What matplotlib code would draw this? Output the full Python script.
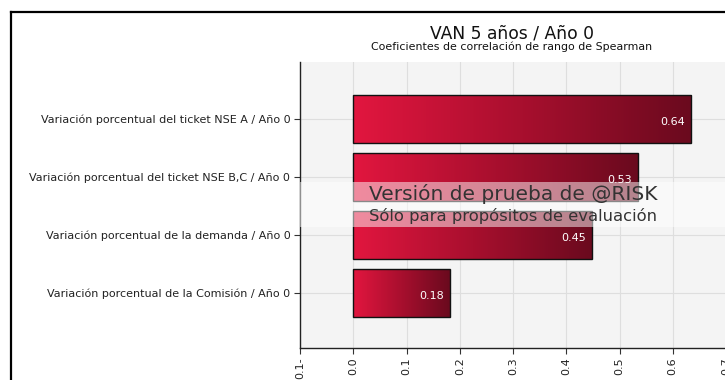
import numpy as np
import matplotlib
matplotlib.use("Agg")
import matplotlib.pyplot as plt
from matplotlib.colors import LinearSegmentedColormap
from matplotlib.lines import Line2D
from matplotlib.patches import Rectangle

categories = [
    "Variación porcentual del ticket NSE A / Año 0",
    "Variación porcentual del ticket NSE B,C / Año 0",
    "Variación porcentual de la demanda / Año 0",
    "Variación porcentual de la Comisión / Año 0",
]
values = [0.635, 0.535, 0.449, 0.182]
value_labels = ["0.64", "0.53", "0.45", "0.18"]
xticks = [-0.1, 0.0, 0.1, 0.2, 0.3, 0.4, 0.5, 0.6, 0.7]
xtick_labels = ["0.1-", "0.0", "0.1", "0.2", "0.3", "0.4", "0.5", "0.6", "0.7"]
title = "VAN 5 años / Año 0"
subtitle = "Coeficientes de correlación de rango de Spearman"
watermark1 = "Versión de prueba de @RISK"
watermark2 = "Sólo para propósitos de evaluación"

plt.rcParams['font.family'] = ['DejaVu Sans']

fig = plt.figure(figsize=(7.25, 3.8), dpi=100)
fig.patch.set_facecolor("white")

W, H = 725, 380
left, right, top, bottom = 300, 726, 62, 348
ax = fig.add_axes([left / W, 1 - bottom / H, (right - left) / W, (bottom - top) / H])
ax.set_facecolor("#F4F4F4")

ypos = np.arange(len(categories))

ax.set_xticks(xticks)
ax.set_xticklabels(xtick_labels, rotation=90, fontsize=8, color="#222222")
ax.set_yticks(ypos)
ax.set_yticklabels(categories, fontsize=8, color="#222222")
ax.tick_params(axis="both", length=4, width=0.8, color="#333333", pad=3)
ax.grid(True, color="#DEDEDE", linewidth=0.8)
ax.set_axisbelow(True)
for s in ["top", "right"]:
    ax.spines[s].set_visible(False)
for s in ["left", "bottom"]:
    ax.spines[s].set_color("#222222")
    ax.spines[s].set_linewidth(1.0)

cmap = LinearSegmentedColormap.from_list("grad", ["#E2163F", "#A80F2E", "#6A0A1E"])
grad = np.linspace(0, 1, 256).reshape(1, -1)
bar_h = 0.82
bars = ax.barh(ypos, values, height=bar_h, facecolor="none", edgecolor="#111111", linewidth=1.0, zorder=4)
for b in bars:
    x0, y0 = b.get_x(), b.get_y()
    w, h = b.get_width(), b.get_height()
    im = ax.imshow(grad, cmap=cmap, aspect="auto", extent=(x0, x0 + w, y0 + h, y0),
                   zorder=3, interpolation="bilinear")
    im.set_clip_path(b)
ax.set_xlim(-0.1, 0.7)
ax.set_ylim(3.95, -0.98)

for yp, v, lab in zip(ypos, values, value_labels):
    ax.text(v - 0.012, yp + 0.05, lab, ha="right", va="center", fontsize=8, color="white", zorder=5)

# watermark band
band = Rectangle((left / W, 1 - 227 / H), (W - left) / W, 45 / H, transform=fig.transFigure,
                 facecolor="white", alpha=0.5, edgecolor="none", zorder=10)
fig.patches.append(band)
fig.text(513 / W, 1 - 194 / H, watermark1, ha="center", va="center", fontsize=14.5, color="#333333", zorder=11)
fig.text(513 / W, 1 - 216 / H, watermark2, ha="center", va="center", fontsize=11.8, color="#333333", zorder=11)

fig.text(512 / W, 1 - 33 / H, title, ha="center", va="center", fontsize=12.3, color="#111111")
fig.text(512 / W, 1 - 47 / H, subtitle, ha="center", va="center", fontsize=7.9, color="#111111")

# outer frame
fig.add_artist(Line2D([10.5 / W, 1.0], [1 - 12 / H, 1 - 12 / H], transform=fig.transFigure, color="black", linewidth=1.6))
fig.add_artist(Line2D([10.5 / W, 10.5 / W], [0, 1 - 12 / H], transform=fig.transFigure, color="black", linewidth=1.6))

fig.savefig("out.png", dpi=100)
